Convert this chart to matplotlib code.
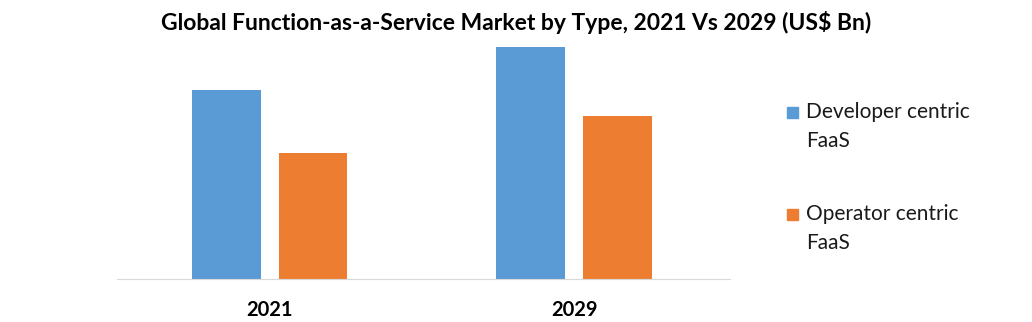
import matplotlib
matplotlib.use("Agg")
import matplotlib.pyplot as plt
from matplotlib.patches import Rectangle
import numpy as np

years = ["2021", "2029"]
developer_centric = [18.9, 23.2]
operator_centric = [12.6, 16.3]
series_names = ["Developer centric\nFaaS", "Operator centric\nFaaS"]

plt.rcParams['font.family'] = ['Lato', 'DejaVu Sans']

W, H = 1032, 322
fig = plt.figure(figsize=(W / 100, H / 100), dpi=100)
ax = fig.add_axes([117 / W, 43 / H, 613 / W, 234 / H])

x = np.arange(len(years))
w = 0.224
off = 0.143
b1 = ax.bar(x - off, developer_centric, w, color="#5B9BD5")
b2 = ax.bar(x + off, operator_centric, w, color="#ED7D31")

ax.set_xlim(-0.503, 1.513)
ax.set_ylim(0, 23.4)
for s in ["top", "right", "left"]:
    ax.spines[s].set_visible(False)
ax.spines["bottom"].set_color("#D9D9D9")
ax.spines["bottom"].set_linewidth(0.8)
ax.set_yticks([])
ax.set_xticks(x)
ax.set_xticklabels(years, fontsize=14.5, fontweight="bold")
ax.tick_params(axis="x", length=0, pad=15)

fig.text(0.5, 1 - 22 / H, "Global Function-as-a-Service Market by Type, 2021 Vs 2029 (US$ Bn)",
         ha="center", va="center", fontsize=16.5, fontweight="bold")

# legend drawn by hand so the swatch lines up with the first text line
legend_y = [113, 215]
for bars, name, yy in zip([b1, b2], series_names, legend_y):
    col = bars.patches[0].get_facecolor()
    fig.add_artist(Rectangle((787 / W, 1 - (yy + 5) / H), 11 / W, 11 / H,
                             transform=fig.transFigure, color=col))
    fig.text(806 / W, 1 - (yy + 13.5) / H, name, ha="left", va="center",
             fontsize=15, linespacing=1.56, color="#1a1a1a")

fig.savefig("out.png", dpi=100)
